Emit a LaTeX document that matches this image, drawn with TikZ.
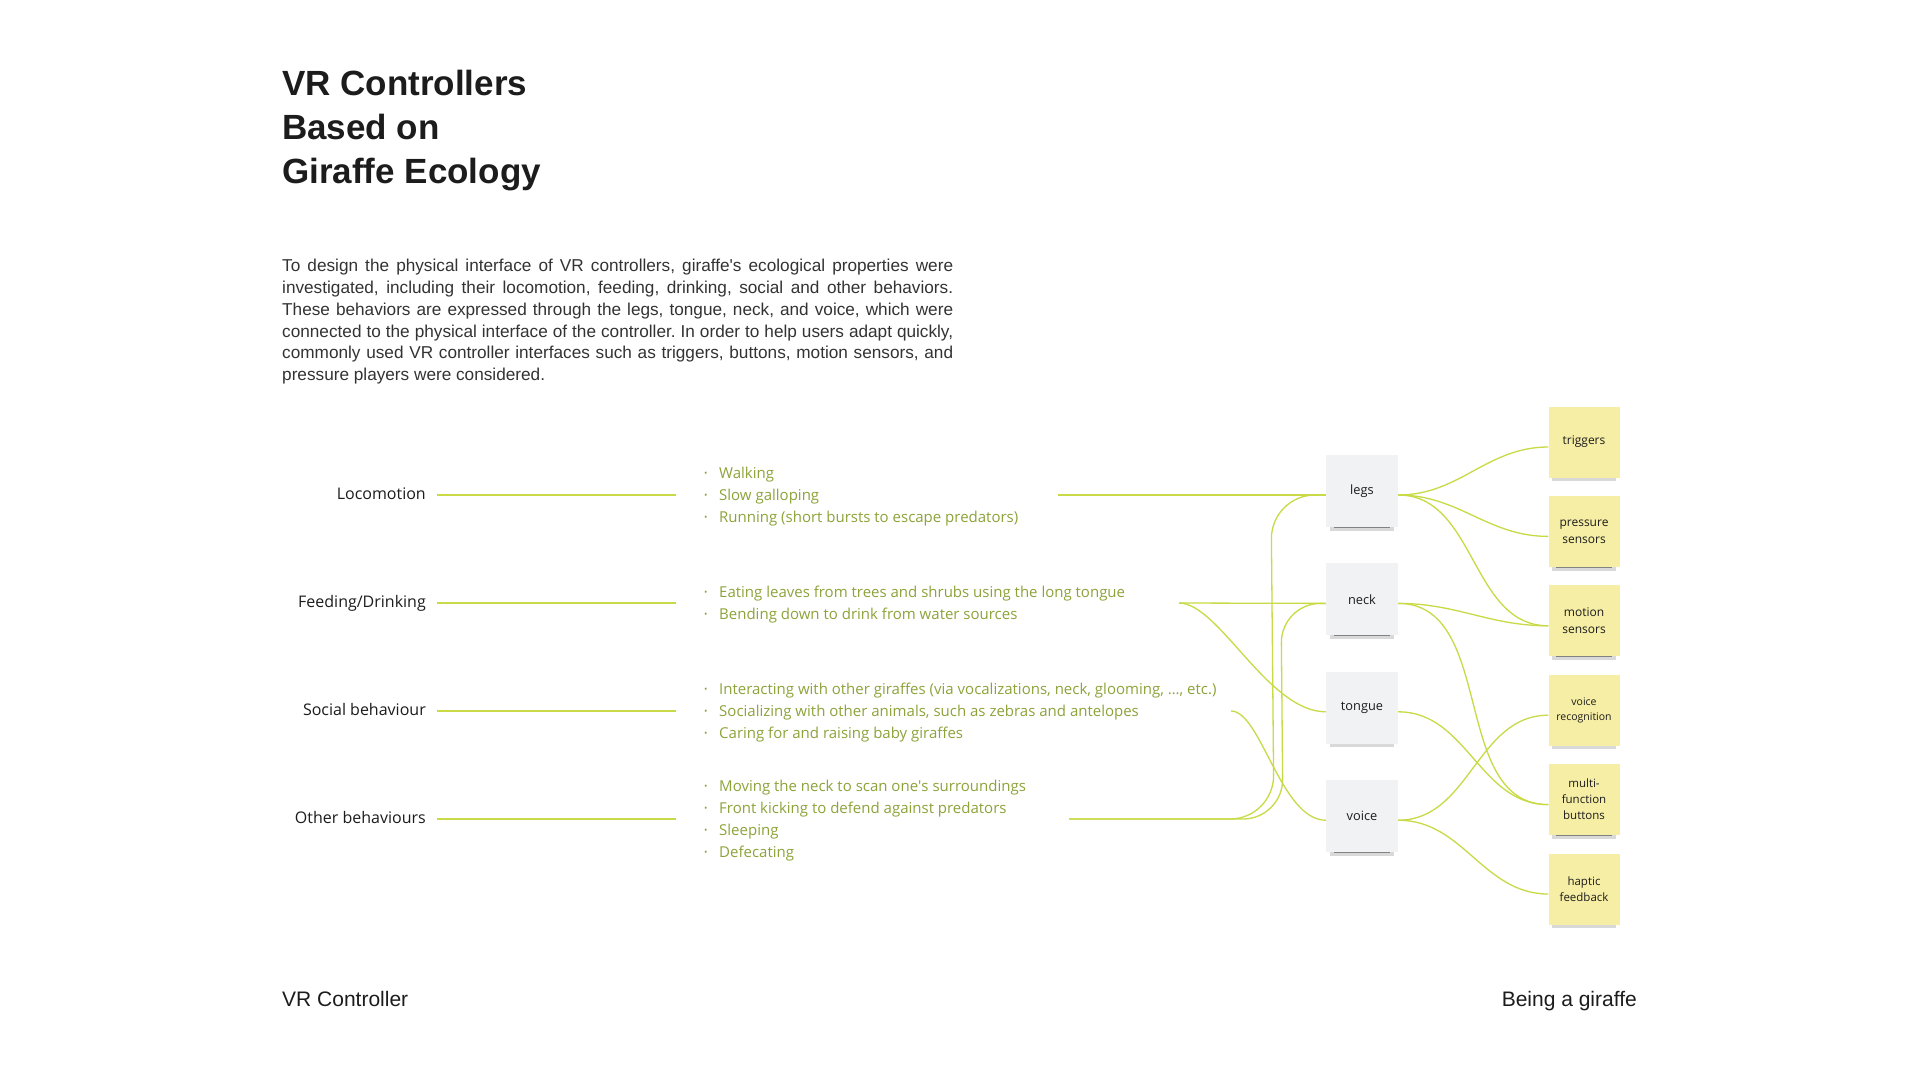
\documentclass[tikz,border=0pt]{standalone}
\usepackage{fontspec}
\setmainfont{Liberation Sans}
\newfontfamily\opensans{Open Sans}
\usetikzlibrary{positioning,shadows}
\definecolor{Ink}{HTML}{1C1C1C}
\definecolor{Olive}{HTML}{8DA33A}
\definecolor{Lime}{HTML}{C8DA45}
\definecolor{Paper}{HTML}{F1F2F4}
\definecolor{Sticky}{HTML}{F6EEA4}
\newcommand{\itm}[1]{\makebox[15pt][l]{\fontsize{9}{9}\selectfont\raisebox{2.3pt}{\textbullet}}#1}

\begin{document}
\begin{tikzpicture}[x=1pt,y=-1pt,
    cat/.style={anchor=east,inner sep=0pt,text=Ink,text height=12pt,text depth=3.5pt,
      font=\opensans\fontsize{16}{19}\selectfont},
    items/.style={anchor=west,align=left,inner sep=0pt,text=Olive,font=\opensans\fontsize{15}{22}\selectfont},
    part/.style={fill=Paper,minimum width=72pt,minimum height=72pt,align=center,text=Ink,
      font=\opensans\fontsize{12.8}{15}\selectfont,
      drop shadow={shadow xshift=0pt,shadow yshift=-8pt,shadow scale=0.9,opacity=0.15,fill=black},
      drop shadow={shadow xshift=0pt,shadow yshift=-11pt,shadow scale=0.78,opacity=0.4,fill=black}},
    note/.style={part,fill=Sticky,minimum width=71pt,minimum height=71pt,font=\opensans\fontsize{12}{17}\selectfont},
    link/.style={draw=Lime,line width=1.3pt}
  ]
  \fill[white] (0,0) rectangle (1920,1080);
  \useasboundingbox (0,0) rectangle (1920,1080);

  \node[anchor=north west,inner sep=0pt,align=left,text=Ink,font=\bfseries\fontsize{35}{44}\selectfont] (title) at (282,70)
    {VR Controllers\\Based on\\Giraffe Ecology};
  \node[anchor=north west,inner sep=0pt,text width=671pt,align=justify,text=Ink!90,font=\frenchspacing\fontsize{17.2}{21.8}\selectfont] (intro) at (282,259)
    {To design the physical interface of VR controllers, giraffe\textquotesingle s ecological properties were\linebreak
     investigated, including their locomotion, feeding, drinking, social and other behaviors.\linebreak
     These behaviors are expressed through the legs, tongue, neck, and voice, which were\linebreak
     connected to the physical interface of the controller. In order to help users adapt quickly,\linebreak
     commonly used VR controller interfaces such as triggers, buttons, motion sensors, and\linebreak
     pressure players were considered.};

  \node[cat] (loclab) at (426,495) {Locomotion};
  \node[cat] (feedlab) at (426,603) {Feeding/Drinking};
  \node[cat] (soclab) at (426,711) {Social behaviour};
  \node[cat] (othlab) at (426,819) {Other behaviours};

  \node[items] (loclist) at (704,497) {\itm{Walking}\\\itm{Slow galloping}\\\itm{Running (short bursts to escape predators)}};
  \node[items] (feedlist) at (704,605) {\itm{Eating leaves from trees and shrubs using the long tongue}\\\itm{Bending down to drink from water sources}};
  \node[items] (soclist) at (704,713) {\itm{Interacting with other giraffes (via vocalizations, neck, glooming, …, etc.)}\\
    \itm{Socializing with other animals, such as zebras and antelopes}\\\itm{Caring for and raising baby giraffes}};
  \node[items] (othlist) at (704,821) {\itm{Moving the neck to scan one\textquotesingle s surroundings}\\\itm{Front kicking to defend against predators}\\
    \itm{Sleeping}\\\itm{Defecating}};
  \foreach \k in {loc,feed,soc,oth}
    \draw[link] ([xshift=11pt]\k lab.east) -- ([xshift=-28pt]\k list.west |- \k lab.east);

  \coordinate (locout) at (1058,495);
  \coordinate (feedout) at (1179,603);
  \coordinate (socout) at (1231,711);
  \coordinate (othout) at (1069,819);

  \node[part] (legs) at (1362,491) {legs};
  \node[part,below=36pt of legs] (neck) {neck};
  \node[part,below=36pt of neck] (tongue) {tongue};
  \node[part,below=36pt of tongue] (voice) {voice};

  \node[note] (trig) at (1584,442) {triggers};
  \node[note,below=18pt of trig] (press) {pressure\\sensors};
  \node[note,below=18pt of press] (motion) {motion\\sensors};
  \node[note,below=18pt of motion,font=\opensans\fontsize{10.5}{15}\selectfont] (vrec) {voice\\recognition};
  \node[note,below=18pt of vrec,font=\opensans\fontsize{11.5}{16}\selectfont] (multi) {multi-\\function\\buttons};
  \node[note,below=18pt of multi,font=\opensans\fontsize{11.5}{16}\selectfont] (haptic) {haptic\\feedback};

  \draw[link] (locout) -- ([yshift=-4pt]legs.west);
  \draw[link] (feedout) -- ([yshift=-4pt]neck.west);
  \draw[link] (feedout) .. controls +(40,0) and +(-58,0) .. ([yshift=-4pt]tongue.west);
  \draw[link] (socout) .. controls +(30,0) and +(-45,0) .. ([yshift=-4pt]voice.west);
  \draw[link,rounded corners=44pt] (othout) -- (1274,819) -- (1271,495) -- ([yshift=-4pt]legs.west);
  \draw[link,rounded corners=40pt] (othout) -- (1283,819) -- (1281,603) -- ([yshift=-4pt]neck.west);
  \foreach \a/\b in {legs/trig,legs/press,legs/motion,neck/motion,neck/multi,tongue/multi,voice/vrec,voice/haptic}
    \draw[link] ([yshift=-4pt]\a.east) to[out=0,in=180] ([yshift=-5pt]\b.west);

  \node[anchor=base west,inner sep=0pt,text=Ink,font=\fontsize{21}{25}\selectfont] (ctrl) at (282,1006) {VR Controller};
  \node[anchor=base east,inner sep=0pt,text=Ink,font=\fontsize{21}{25}\selectfont] (being) at (1637,1006) {Being a giraffe};
\end{tikzpicture}
\end{document}
